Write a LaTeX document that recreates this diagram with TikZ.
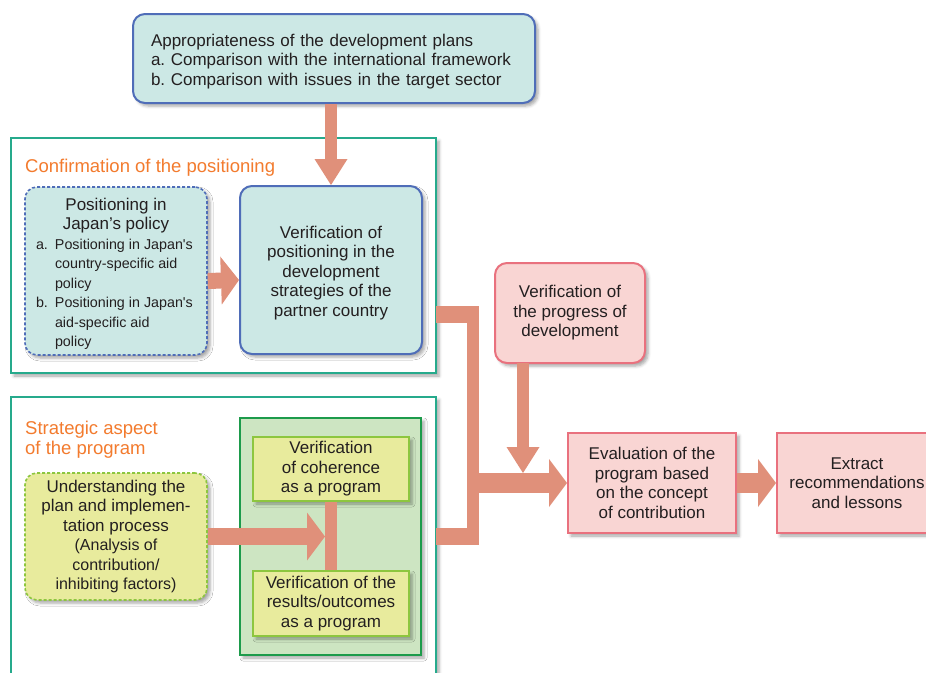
\documentclass[tikz,border=0pt]{standalone}
\usepackage{fontspec}
\setmainfont{Liberation Sans}
\usetikzlibrary{arrows.meta,shadows.blur,positioning}
\definecolor{ink}{RGB}{35,31,32}
\definecolor{tealfill}{RGB}{204,232,229}
\definecolor{blueline}{RGB}{79,109,184}
\definecolor{grpline}{RGB}{38,170,140}
\definecolor{orangetxt}{RGB}{243,123,46}
\definecolor{limefill}{RGB}{232,235,157}
\definecolor{limeline}{RGB}{141,198,63}
\definecolor{greenfill}{RGB}{205,229,194}
\definecolor{greenline}{RGB}{29,155,75}
\definecolor{pinkfill}{RGB}{249,213,211}
\definecolor{pinkline}{RGB}{233,113,126}
\definecolor{salmon}{RGB}{224,144,122}
\frenchspacing
\newcommand{\itemfont}{\fontsize{14.3}{18.6}\selectfont}
\newcommand{\jpitem}[2]{\itemfont\makebox[160pt][l]{\makebox[19pt][l]{#1}#2}}
\newcommand{\jpcont}[1]{\itemfont\makebox[160pt][l]{\hspace*{19pt}#1}}
\newcommand{\notefont}{\fontsize{16}{19}\selectfont}
\newcommand{\toprule}{\rule{0pt}{18pt}}
\begin{document}
\begin{tikzpicture}[x=1pt,y=-1pt,
    txt/.style={font=\fontsize{17}{19.5}\selectfont,text=ink,align=center,inner sep=0pt},
    shad/.style={blur shadow={shadow xshift=3pt,shadow yshift=-3pt,shadow blur radius=3pt,shadow opacity=35}},
    group/.style={draw=grpline,line width=1.2pt,fill=white,shad},
    heading/.style={font=\fontsize{18.5}{20}\selectfont,text=orangetxt,align=left,inner sep=0pt},
    bluebox/.style={txt,draw=blueline,line width=2pt,fill=tealfill,rounded corners=12pt,shad},
    limebox/.style={txt,draw=limeline,line width=2pt,fill=limefill,shad},
    pinkbox/.style={txt,draw=pinkline,line width=2pt,fill=pinkfill,shad},
    pipe/.style={draw=salmon,line width=#1},
    bigarrow/.style={draw=salmon,line width=#1,-{Triangle[width=48pt,length=18pt,line width=0pt]}},
    slimarrow/.style={draw=salmon,line width=12pt,-{Triangle[width=33pt,length=26pt,line width=0pt]}}]
  \useasboundingbox (0,0) rectangle (926,672);

  \node[group,minimum width=425pt,minimum height=235pt] (conf) at (223.5,255.5) {};
  \node[group,minimum width=425pt,minimum height=293pt] (strat) at (223.5,543.5) {};
  \node[heading,anchor=west] (conft) at (25,168) {Confirmation of the positioning};
  \node[heading,anchor=north west] (stratt) at (25,421) {Strategic aspect\\of the program};

  \node[bluebox,align=left,text width=366pt,minimum width=402pt,minimum height=89pt] (plans) at (334,58.5)
    {\toprule Appropriateness of the development plans\\a. Comparison with the international framework\\b. Comparison with issues in the target sector};
  \node[bluebox,dash pattern=on 3pt off 2pt,line width=1.6pt,minimum width=182pt,minimum height=168pt] (jpn) at (116,271)
    {\toprule Positioning in\\Japan’s policy\\
     \jpitem{a.}{Positioning in Japan\textquotesingle s}\\
     \jpcont{country-specific aid}\\
     \jpcont{policy}\\
     \jpitem{b.}{Positioning in Japan\textquotesingle s}\\
     \jpcont{aid-specific aid}\\
     \jpcont{policy}};
  \node[bluebox,minimum width=182pt,minimum height=168pt] (pos) at (331,270)
    {\toprule Verification of\\positioning in the\\development\\strategies of the\\partner country};

  \node[draw=greenline,line width=2.5pt,fill=greenfill,shad,minimum width=181pt,minimum height=237pt] (inner) at (330.5,536.5) {};
  \node[limebox,minimum width=156pt,minimum height=64pt] (coh) at (331,469)
    {Verification\\of coherence\\as a program};
  \node[limebox,minimum width=156pt,minimum height=65pt] (res) at (331,603.5)
    {Verification of the\\results/outcomes\\as a program};
  \node[limebox,rounded corners=12pt,dash pattern=on 3pt off 2pt,line width=1.6pt,minimum width=182pt,minimum height=127pt] (und) at (116,536.5)
    {Understanding the\\plan and implemen-\\tation process\\
     \notefont(Analysis of\\\notefont contribution/\\\notefont inhibiting factors)};

  \node[pinkbox,rounded corners=12pt,minimum width=150pt,minimum height=100pt] (prog) at (570,313)
    {Verification of\\the progress of\\development};
  \node[pinkbox,minimum width=168pt,minimum height=100pt] (eval) at (652,483)
    {Evaluation of the\\program based\\on the concept\\of contribution};
  \node[pinkbox,minimum width=160pt,minimum height=100pt] (extr) at (857,483)
    {Extract\\recommendations\\and lessons};

  \coordinate (u1) at (325,536.5);
  \coordinate (b1) at (436,314.5);
  \coordinate (b2) at (479,314.5);
  \coordinate (b3) at (473,306);
  \coordinate (b4) at (473,545);
  \coordinate (b5) at (436,536);
  \coordinate (b6) at (479,536);
  \coordinate (b7) at (479,483);
  \coordinate (d1) at (523,363);
  \coordinate (d2) at (523,473);

  \draw[slimarrow] (plans.south -| pos.north) -- (pos.north);
  \draw[bigarrow=16pt] ([yshift=-10pt]jpn.east) -- ([yshift=-10pt]pos.west);
  \draw[pipe=12pt] (coh.south) -- (res.north);
  \draw[bigarrow=17pt] (und.east) -- (u1);
  \draw[pipe=17pt] (b1) -- (b2);
  \draw[pipe=12pt] (b3) -- (b4);
  \draw[pipe=17pt] (b5) -- (b6);
  \draw[bigarrow=20pt] (b7) -- (eval.west);
  \draw[slimarrow] (d1) -- (d2);
  \draw[bigarrow=20pt] (eval.east) -- (extr.west);
\end{tikzpicture}
\end{document}
